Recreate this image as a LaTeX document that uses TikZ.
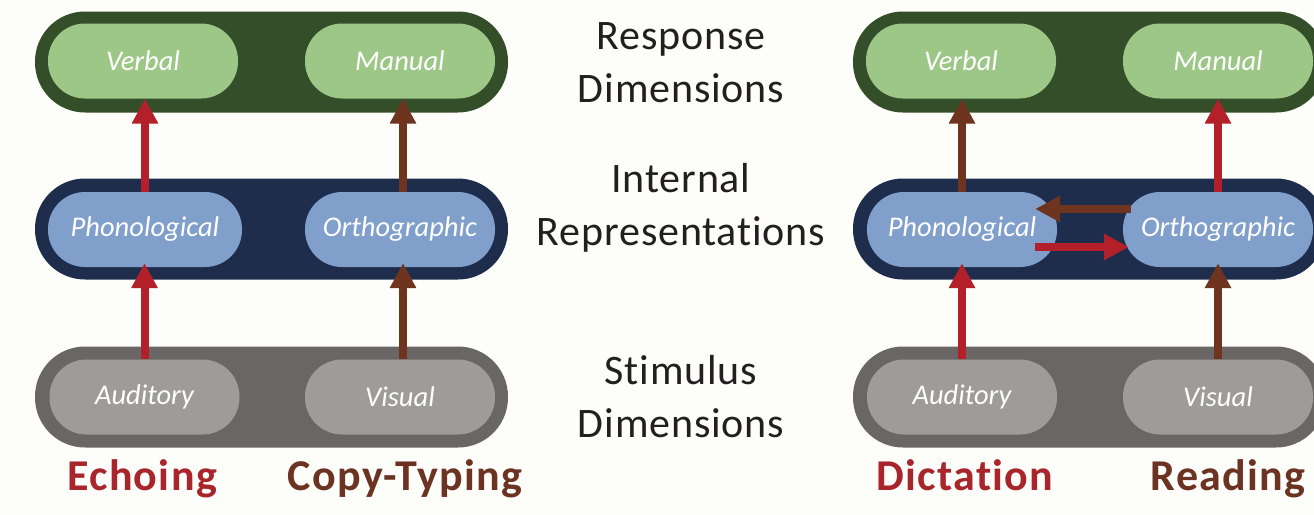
\documentclass[tikz,border=0pt]{standalone}
\usepackage{fontspec}
\setmainfont{Carlito}[Ligatures={NoCommon,NoContextual}]
\newfontfamily\lblfont{Carlito}[Ligatures={NoCommon,NoContextual},LetterSpace=3]
\newfontfamily\midfont{Carlito}[Ligatures={NoCommon,NoContextual},LetterSpace=2]
\usetikzlibrary{arrows.meta}
\definecolor{bg}{HTML}{FDFDFA}
\definecolor{gout}{HTML}{344E2A}
\definecolor{gin}{HTML}{9DC787}
\definecolor{bout}{HTML}{1F2D4D}
\definecolor{bin}{HTML}{809FCB}
\definecolor{kout}{HTML}{6A6665}
\definecolor{kin}{HTML}{9E9C99}
\definecolor{redA}{HTML}{B3202A}
\definecolor{brnA}{HTML}{6E3420}
\definecolor{redT}{HTML}{A8252B}
\definecolor{brnT}{HTML}{6C3323}
\definecolor{txt}{HTML}{231F20}
\tikzset{
  outer/.style={draw=none, rounded corners=50pt, minimum width=473pt, minimum height=101pt, inner sep=0pt},
  inner/.style={draw=none, rounded corners=37pt, minimum width=190pt, minimum height=75pt, inner sep=0pt,
    text=white, font=\fontsize{28.5}{30}\selectfont\itshape},
  midlbl/.style={align=center, text=txt, font=\midfont\fontsize{42}{53}\selectfont, inner sep=0pt},
  botlbl/.style={font=\lblfont\fontsize{44}{46}\selectfont\bfseries, inner sep=0pt, anchor=base},
  arr/.style={line width=8pt, -{Triangle[length=25pt,width=25pt]}},
  redarr/.style={arr, draw=redA, fill=redA},
  brnarr/.style={arr, draw=brnA, fill=brnA},
}
\begin{document}
\begin{tikzpicture}[x=1pt,y=-1pt]
\clip (0,0) rectangle (1314,514);
\fill[bg] (0,0) rectangle (1314,514);
% outer bars
\node[outer, fill=gout] (g1) at (271.5,62) {};
\node[outer, fill=bout] (b1) at (271.5,229) {};
\node[outer, fill=kout] (k1) at (271.5,397) {};
\node[outer, fill=gout] (g2) at (1089.5,62) {};
\node[outer, fill=bout] (b2) at (1089.5,229) {};
\node[outer, fill=kout] (k2) at (1089.5,397) {};
% left panel inner
\node[inner, fill=gin] (ver1) at (143,61) {Verbal};
\node[inner, fill=gin] (man1) at (400,61) {Manual};
\node[inner, fill=bin, minimum width=194pt] (pho1) at (145,229.5) {Phonological};
\node[inner, fill=bin] (ort1) at (400,229.5) {Orthographic};
\node[inner, fill=kin] (aud1) at (144.5,397) {Auditory};
\node[inner, fill=kin] (vis1) at (400,397) {Visual};
% right panel inner
\node[inner, fill=gin] (ver2) at (961,61) {Verbal};
\node[inner, fill=gin] (man2) at (1218,61) {Manual};
\node[inner, fill=bin] (pho2) at (962,229.5) {Phonological};
\node[inner, fill=bin] (ort2) at (1218,229.5) {Orthographic};
\node[inner, fill=kin] (aud2) at (962,397) {Auditory};
\node[inner, fill=kin] (vis2) at (1218,397) {Visual};
% middle labels
\node[midlbl] (resp) at (681,63) {Response\\Dimensions};
\node[midlbl] (intr) at (681,208) {Internal\\Representations};
\node[midlbl] (stim) at (681,397) {Stimulus\\Dimensions};
% bottom labels
\node[botlbl, text=redT] (echo) at (142,490) {Echoing};
\node[botlbl, text=brnT] (copy) at (405,490) {Copy-Typing};
\node[botlbl, text=redT] (dict) at (965,490) {Dictation};
\node[botlbl, text=brnT] (read) at (1228,490) {Reading};
% left arrows
\draw[redarr] (aud1.north) -- ([yshift=4pt]aud1.north |- pho1.south);
\draw[redarr] (pho1.north) -- (pho1.north |- ver1.south);
\draw[brnarr] ([xshift=3pt]vis1.north) -- ([xshift=3pt,yshift=4pt]ort1.south);
\draw[brnarr] ([xshift=3pt]ort1.north) -- ([xshift=3pt]man1.south);
% right arrows
\draw[redarr] (aud2.north) -- ([yshift=4pt]pho2.south);
\draw[brnarr] (pho2.north) -- (pho2.north |- ver2.south);
\draw[brnarr] (vis2.north) -- ([yshift=4pt]ort2.south);
\draw[redarr] (ort2.north) -- (ort2.north |- man2.south);
\draw[brnarr, shorten <=-8pt, shorten >=-22pt] ([yshift=20.5pt]ort2.west) -- ([yshift=20.5pt]pho2.east);
\draw[redarr, shorten <=-22pt, shorten >=-6pt] ([yshift=-17.5pt]pho2.east) -- ([yshift=-17.5pt]ort2.west);
\end{tikzpicture}
\end{document}
